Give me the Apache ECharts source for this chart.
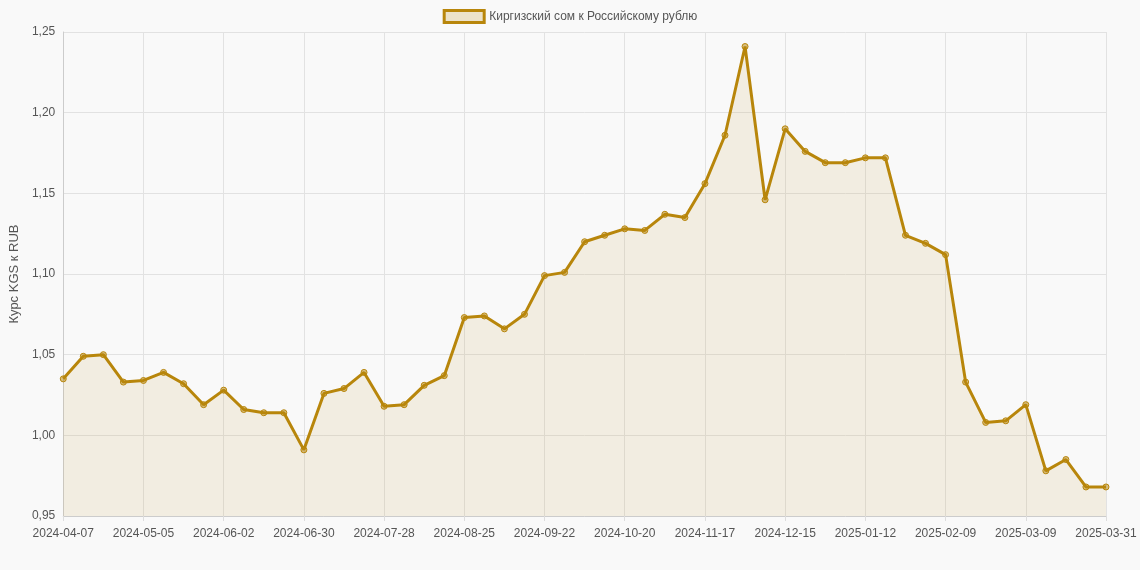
<!DOCTYPE html>
<html><head><meta charset="utf-8">
<script src="https://cdn.jsdelivr.net/npm/echarts@6/dist/echarts.min.js"></script>
<style>html,body{margin:0;background:#f9f9f9}#c{width:1140px;height:570px}</style>
</head><body><div id="c"></div>
<script>
const startDate = '2024-04-07';
const lastDate = '2025-03-31';
const values = [1.035,1.049,1.050,1.033,1.034,1.039,1.032,1.019,1.028,1.016,1.014,1.014,0.991,1.026,1.029,1.039,1.018,1.019,1.031,1.037,1.073,1.074,1.066,1.075,1.099,1.101,1.120,1.124,1.128,1.127,1.137,1.135,1.156,1.186,1.241,1.146,1.190,1.176,1.169,1.169,1.172,1.172,1.124,1.119,1.112,1.033,1.008,1.009,1.019,0.978,0.985,0.968,0.968];
const categories = [];
{ const d = new Date(startDate + 'T00:00:00Z');
  for (let i = 0; i < values.length - 1; i++) { categories.push(new Date(d.getTime() + i*7*86400000).toISOString().slice(0,10)); }
  categories.push(lastDate); }
const chart = echarts.init(document.getElementById('c'));
chart.setOption({
  backgroundColor:'#f9f9f9',
  legend:{top:4,itemWidth:40,itemHeight:12,textStyle:{color:'#555',fontSize:12,fontFamily:'Arial'},
    data:[{name:'Киргизский сом к Российскому рублю',icon:'rect',itemStyle:{color:'rgba(184,134,11,0.2)',borderColor:'#b8860b',borderWidth:3}}]},
  grid:{left:62,right:34,top:32,bottom:54},
  xAxis:{type:'category',data:categories,boundaryGap:false,
    axisLine:{lineStyle:{color:'#ccc'}},axisTick:{show:true,interval:3,lineStyle:{color:'#ddd'}},
    axisLabel:{interval:3,color:'#555',fontSize:12,fontFamily:'Arial',margin:12},
    splitLine:{show:true,interval:3,lineStyle:{color:'#e2e2e2'}}},
  yAxis:{type:'value',min:0.95,max:1.25,interval:0.05,name:'Курс KGS к RUB',nameLocation:'middle',nameGap:42,
    nameTextStyle:{color:'#555',fontSize:13,fontFamily:'Arial'},
    axisLine:{show:true,lineStyle:{color:'#ccc'}},
    axisLabel:{color:'#555',fontSize:12,fontFamily:'Arial',formatter:v=>v.toFixed(2).replace('.',',')},
    splitLine:{lineStyle:{color:'#e2e2e2'}}},
  series:[{name:'Киргизский сом к Российскому рублю',type:'line',data:values,
    lineStyle:{color:'#b8860b',width:3},itemStyle:{color:'rgba(184,134,11,0.5)',borderColor:'#b8860b',borderWidth:1},
    symbol:'circle',symbolSize:6,showAllSymbol:true,
    areaStyle:{color:'rgba(196,160,60,0.18)'}}]
});
</script></body></html>
